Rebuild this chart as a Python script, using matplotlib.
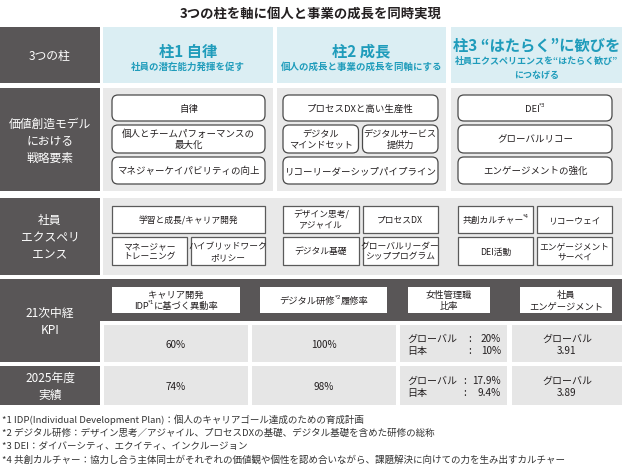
import re
import matplotlib
matplotlib.use("Agg")
import matplotlib.pyplot as plt
from matplotlib.patches import Rectangle, FancyBboxPatch

plt.rcParams["font.family"] = ["Noto Sans CJK JP", "DejaVu Sans"]

DARK = "#595657"
PANEL = "#e9e9e9"
CELL = "#e6e6e6"
BLUE_BG = "#dbeef3"
TEAL = "#1f9cbb"
TXT = "#231f20"
EDGE = "#4a4a4a"

# ---- content ---------------------------------------------------------------
title = "3つの柱を軸に個人と事業の成長を同時実現"
row_labels = ["3つの柱", "価値創造モデル\nにおける\n戦略要素", "社員\nエクスペリ\nエンス",
              "21次中経\nKPI", "2025年度\n実績"]

pillar_titles = ["柱1 自律", "柱2 成長", "柱3 “はたらく”に歓びを"]
pillar_subs = ["社員の潜在能力発揮を促す", "個人の成長と事業の成長を同軸にする",
               "社員エクスペリエンスを“はたらく歓び”\nにつなげる"]

strategy_col1 = ["自律", "個人とチームパフォーマンスの\n最大化", "マネジャーケイパビリティの向上"]
strategy_col2 = ["プロセスDXと高い生産性", ["デジタル\nマインドセット", "デジタルサービス\n提供力"],
                 "リコーリーダーシップパイプライン"]
strategy_col3 = ["DEI*3", "グローバルリコー", "エンゲージメントの強化"]

experience_col1 = [["学習と成長/キャリア開発"], ["マネージャー\nトレーニング", "ハイブリッドワーク\nポリシー"]]
experience_col2 = [["デザイン思考/\nアジャイル", "プロセスDX"], ["デジタル基礎", "グローバルリーダー\nシッププログラム"]]
experience_col3 = [["共創カルチャー*4", "リコーウェイ"], ["DEI活動", "エンゲージメント\nサーベイ"]]

kpi_headers = ["キャリア開発\nIDP*1に基づく異動率", "デジタル研修*2履修率", "女性管理職\n比率", "社員\nエンゲージメント"]
career_rate = [60, 74]          # target, FY2025 actual (%)
digital_rate = [100, 98]
women_global = [20, 17.9]
women_japan = [10, 9.4]
engagement_global = [3.91, 3.89]

footnotes = [
    "*1 IDP(Individual Development Plan)：個人のキャリアゴール達成のための育成計画",
    "*2 デジタル研修：デザイン思考／アジャイル、プロセスDXの基礎、デジタル基礎を含めた研修の総称",
    "*3 DEI：ダイバーシティ、エクイティ、インクルージョン",
    "*4 共創カルチャー：協力し合う主体同士がそれぞれの価値観や個性を認め合いながら、課題解決に向けての力を生み出すカルチャー",
]

# ---- canvas (1 data unit = 1 pixel, y downwards) ---------------------------
fig = plt.figure(figsize=(6.22, 4.65), dpi=100)
ax = fig.add_axes([0, 0, 1, 1])
ax.set_xlim(0, 622)
ax.set_ylim(465, 0)
ax.axis("off")
renderer = fig.canvas.get_renderer()


def rect(x0, y0, x1, y1, fc, ec="none", lw=0):
    ax.add_patch(Rectangle((x0, y0), x1 - x0, y1 - y0, fc=fc, ec=ec, lw=lw))


def rbox(x0, y0, x1, y1):
    ax.add_patch(FancyBboxPatch((x0, y0), x1 - x0, y1 - y0,
                                boxstyle="round,pad=0,rounding_size=6",
                                fc="white", ec=EDGE, lw=0.9))


def label(x, y, s, fs, color=TXT, weight="normal", ls=1.3, ha="center"):
    lines = s.split("\n")
    lh = fs * ls * 100 / 72
    y0 = y - lh * (len(lines) - 1) / 2
    for i, line in enumerate(lines):
        yy = y0 + i * lh
        segs = [p for p in re.split(r"(\*\d)", line) if p]
        if len(segs) == 1:
            ax.text(x, yy, line, fontsize=fs, color=color, weight=weight,
                    ha=ha, va="center_baseline")
            continue
        objs = []
        for p in segs:
            sup = p.startswith("*")
            t = ax.text(0, yy - (fs * 0.5 if sup else 0), p,
                        fontsize=fs * 0.6 if sup else fs, color=color,
                        family="DejaVu Sans" if sup else None,
                        weight=weight, ha="left", va="center_baseline")
            objs.append(t)
        widths = [t.get_window_extent(renderer=renderer).width for t in objs]
        widths = [w - 0.5 for w in widths]
        cx = x - sum(widths) / 2
        for t, w in zip(objs, widths):
            t.set_x(cx)
            cx += w


# title
ax.text(311, 14, title, fontsize=9.6, weight="bold", color=TXT, ha="center", va="center")

# row geometry
rows = [(27, 83), (88, 191), (198, 275), (279, 362), (366, 405)]
cols = [(103, 273), (277, 446), (451, 622)]

for (y0, y1), txt in zip(rows, row_labels):
    rect(0, y0, 100, y1, DARK)
    label(50, (y0 + y1) / 2, txt, 8.5, color="white", ls=1.45)

# row 1: pillars
for (x0, x1), t, s in zip(cols, pillar_titles, pillar_subs):
    rect(x0, 27, x1, 83, BLUE_BG)
    xc = (x0 + x1) / 2
    if "\n" in s:
        label(xc, 44, t, 11, color=TEAL, weight="bold")
        label(xc, 67.5, s, 6.5, color=TEAL, weight="bold", ls=1.45)
    else:
        label(xc, 50, t, 11, color=TEAL, weight="bold")
        label(xc, 66, s, 6.8, color=TEAL, weight="bold")

# row 2: strategy elements
box_x = [(112, 265), (283, 438), (458, 612)]
box_y = [(95, 121), (125, 153), (157, 184)]
for (x0, x1), (bx0, bx1), items in zip(cols, box_x, [strategy_col1, strategy_col2, strategy_col3]):
    rect(x0, 88, x1, 191, PANEL)
    for (by0, by1), it in zip(box_y, items):
        if isinstance(it, list):
            mid = (bx0 + bx1) / 2
            parts = [(bx0, mid - 2), (mid + 2, bx1)]
            for (px0, px1), sub in zip(parts, it):
                rbox(px0, by0, px1, by1)
                label((px0 + px1) / 2, (by0 + by1) / 2, sub, 6.6, ls=1.2)
        else:
            rbox(bx0, by0, bx1, by1)
            label((bx0 + bx1) / 2, (by0 + by1) / 2, it, 6.8, ls=1.2)

# row 3: employee experience
rect(103, 198, 622, 275, PANEL)
exp_y = [(206, 233), (237, 265)]
for (bx0, bx1), items in zip(box_x, [experience_col1, experience_col2, experience_col3]):
    for (by0, by1), line in zip(exp_y, items):
        n = len(line)
        gap = 4
        w = (bx1 - bx0 - gap * (n - 1)) / n
        for k, it in enumerate(line):
            px0 = bx0 + k * (w + gap)
            rect(px0, by0, px0 + w, by1, "white", ec="#5a5a5a", lw=0.9)
            label(px0 + w / 2, (by0 + by1) / 2, it, 6.3, ls=1.2)

# rows 4-5: KPI
rect(0, 279, 622, 321, DARK)
head_x = [(112, 240), (260, 387), (408, 490), (520, 612)]
cell_x = [(104, 248), (252, 396), (400, 507), (512, 622)]
for (hx0, hx1), h in zip(head_x, kpi_headers):
    rect(hx0, 287, hx1, 313, "white")
    label((hx0 + hx1) / 2, 300, h, 6.7, ls=1.2)

value_rows = [(325, 362), (366, 405)]
colon_x = [470, 465]


def pct(v):
    return f"{v:g}%"


for i, (cy0, cy1) in enumerate(value_rows):
    for cx0, cx1 in cell_x:
        rect(cx0, cy0, cx1, cy1, CELL)
    yc = (cy0 + cy1) / 2
    label(sum(cell_x[0]) / 2, yc, pct(career_rate[i]), 7.2)
    label(sum(cell_x[1]) / 2, yc, pct(digital_rate[i]), 7.2)
    for k, (name, vals) in enumerate([("グローバル", women_global), ("日本", women_japan)]):
        yy = yc - 6 + 12 * k
        ax.text(407, yy, name, fontsize=7.2, color=TXT, ha="left", va="center_baseline")
        ax.text(colon_x[i], yy, ":", fontsize=7.2, color=TXT, ha="center", va="center_baseline")
        ax.text(501, yy, pct(vals[i]), fontsize=7.2, color=TXT, ha="right", va="center_baseline")
    label(sum(cell_x[3]) / 2, yc, f"グローバル\n{engagement_global[i]:.2f}", 7.2, ls=1.2)

# footnotes
for i, note in enumerate(footnotes):
    ax.text(2, 419 + 13.4 * i, note, fontsize=6.85, color="#333333", ha="left", va="center_baseline")

fig.savefig("out.png", dpi=100)
